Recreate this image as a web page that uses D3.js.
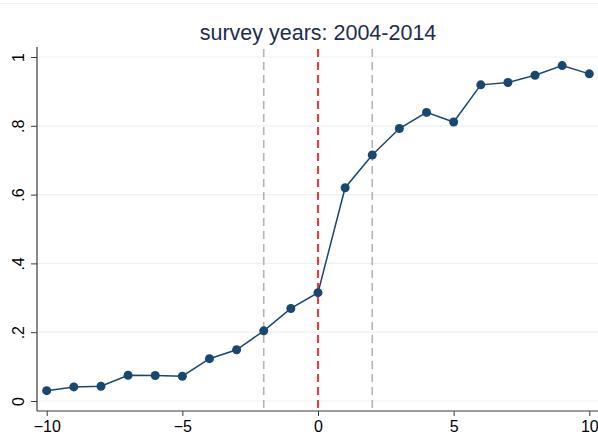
<!DOCTYPE html>
<html>
<head>
<meta charset="utf-8">
<script src="https://cdn.jsdelivr.net/npm/d3@7"></script>
<style>
  body { margin: 0; background: #fff; }
  svg { display: block; font-family: "Liberation Sans", Arial, sans-serif; }
</style>
</head>
<body>
<svg id="chart" width="598" height="441"></svg>
<script>
// data
var years = [-10, -9, -8, -7, -6, -5, -4, -3, -2, -1, 0, 1, 2, 3, 4, 5, 6, 7, 8, 9, 10];
var shares = [0.030, 0.041, 0.043, 0.075, 0.074, 0.072, 0.123, 0.149, 0.204, 0.269, 0.315,
              0.620, 0.715, 0.792, 0.839, 0.811, 0.919, 0.926, 0.947, 0.975, 0.951];
var xTicks = [-10, -5, 0, 5, 10];
var yTicks = [0, 0.2, 0.4, 0.6, 0.8, 1];
var yTickLabels = ["0", ".2", ".4", ".6", ".8", "1"];
var grayLines = [-2, 2];
var redLines = [0];
var title = "survey years: 2004-2014";

var svg = d3.select("#chart");
var plotLeft = 37, plotRight = 598, plotTop = 47, plotBottom = 411;

var x = d3.scaleLinear().domain([-10, 10]).range([46.7, 589.3]);
var y = d3.scaleLinear().domain([0, 1]).range([401, 57]);

// faint frame line at the top
svg.append("line")
  .attr("x1", 0).attr("x2", 598).attr("y1", 3.5).attr("y2", 3.5)
  .attr("stroke", "#eef2f2").attr("stroke-width", 1);

// grid
svg.append("g").selectAll("line")
  .data(yTicks)
  .enter().append("line")
    .attr("x1", plotLeft).attr("x2", plotRight)
    .attr("y1", function(d) { return y(d); })
    .attr("y2", function(d) { return y(d); })
    .attr("stroke", "#eaf2f3")
    .attr("stroke-width", 1.2);

// reference lines
function refLines(vals, color) {
  svg.append("g").selectAll("line")
    .data(vals)
    .enter().append("line")
      .attr("x1", function(d) { return x(d); })
      .attr("x2", function(d) { return x(d); })
      .attr("y1", plotTop + 2).attr("y2", plotBottom)
      .attr("stroke", color)
      .attr("stroke-width", 1.6)
      .attr("stroke-dasharray", "8,5");
}
refLines(grayLines, "#b4b4b4");
refLines(redLines, "#ff0000");

// axes
var xAxis = d3.axisBottom(x).tickValues(xTicks).tickSize(5).tickSizeOuter(0);
var gx = svg.append("g")
  .attr("transform", "translate(0," + plotBottom + ")")
  .call(xAxis);
gx.select(".domain").remove();
gx.append("line")
  .attr("x1", plotLeft).attr("x2", plotRight).attr("y1", 0).attr("y2", 0)
  .attr("stroke", "#3a3a3a").attr("stroke-width", 1.2);
gx.selectAll(".tick line").attr("stroke", "#3a3a3a");
gx.selectAll(".tick text")
  .attr("font-size", 16)
  .attr("fill", "#000")
  .attr("font-family", "Liberation Sans, Arial, sans-serif")
  .attr("y", 10);

var yAxis = d3.axisLeft(y).tickValues(yTicks).tickSize(6).tickSizeOuter(0)
  .tickFormat(function(d, i) { return yTickLabels[i]; });
var gy = svg.append("g")
  .attr("transform", "translate(" + plotLeft + ",0)")
  .call(yAxis);
gy.select(".domain").remove();
gy.append("line")
  .attr("x1", 0).attr("x2", 0).attr("y1", plotTop).attr("y2", plotBottom)
  .attr("stroke", "#3a3a3a").attr("stroke-width", 1.2);
gy.selectAll(".tick line").attr("stroke", "#3a3a3a");
gy.selectAll(".tick text")
  .attr("font-size", 16)
  .attr("fill", "#000")
  .attr("font-family", "Liberation Sans, Arial, sans-serif")
  .attr("x", null).attr("dy", null)
  .attr("text-anchor", "middle")
  .attr("transform", "translate(-13,0) rotate(-90)");

// series
var line = d3.line()
  .x(function(d) { return x(d[0]); })
  .y(function(d) { return y(d[1]); });
var pts = d3.zip(years, shares);

svg.append("path")
  .datum(pts)
  .attr("d", line)
  .attr("fill", "none")
  .attr("stroke", "#1a476f")
  .attr("stroke-width", 1.5);

svg.append("g").selectAll("circle")
  .data(pts)
  .enter().append("circle")
    .attr("cx", function(d) { return x(d[0]); })
    .attr("cy", function(d) { return y(d[1]); })
    .attr("r", 4.5)
    .attr("fill", "#1a476f");

// title
svg.append("text")
  .attr("x", 318).attr("y", 40)
  .attr("text-anchor", "middle")
  .attr("font-size", 21.5)
  .attr("fill", "#1e2c52")
  .text(title);
</script>
</body>
</html>
